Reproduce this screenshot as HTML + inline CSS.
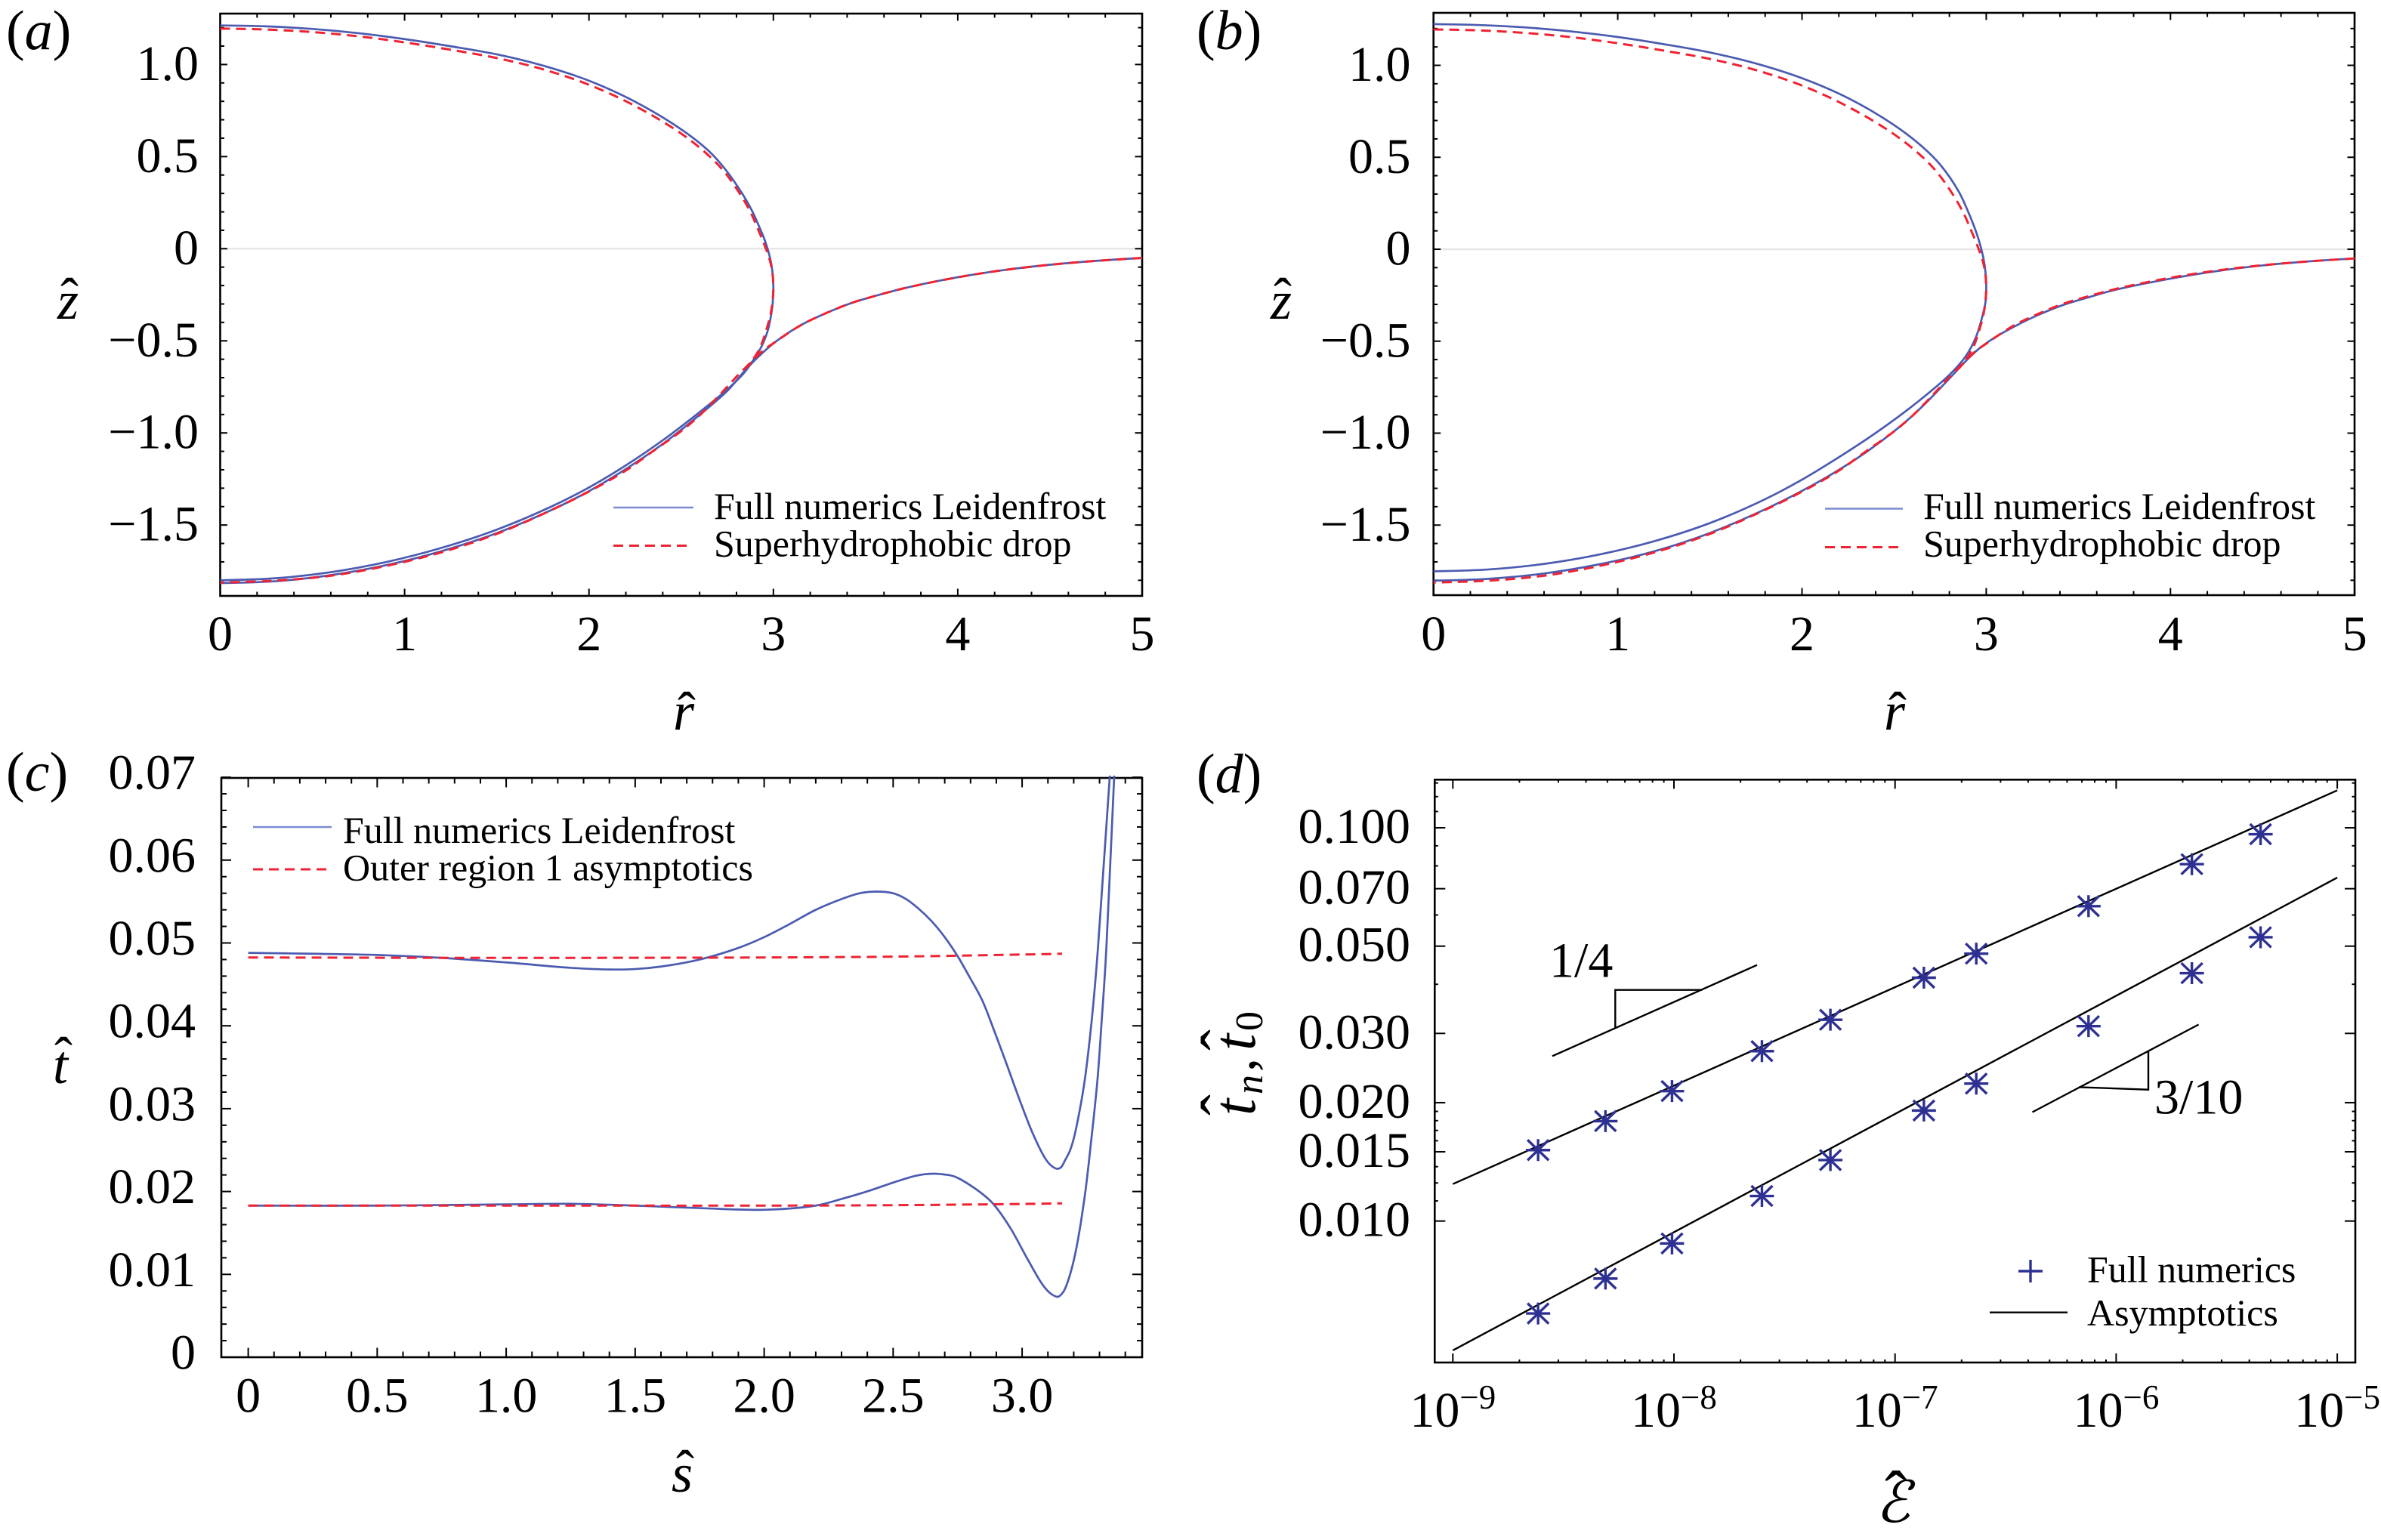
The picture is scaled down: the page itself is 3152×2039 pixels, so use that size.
<!DOCTYPE html>
<html lang="en">
<head>
<meta charset="utf-8">
<title>Leidenfrost drop profiles and film thickness</title>
<style>
html,body{margin:0;padding:0;background:#fff;}
body{width:3152px;height:2039px;overflow:hidden;}
svg{display:block;}
text{font-family:"Liberation Serif","DejaVu Serif",serif;fill:#000;}
.tick{font-size:66px;}
.sup{font-size:45px;}
.leg{font-size:50px;}
.tag{font-size:74px;}
.ax{font-size:72px;font-style:italic;}
.hat{font-size:72px;font-style:normal;}
.it{font-style:italic;}
.frame{fill:none;stroke:#000;stroke-width:2.6;}
.t{stroke:#000;stroke-width:2;}
.blue{fill:none;stroke:#4b5bb0;stroke-width:2.7;}
.red{fill:none;stroke:#ee2333;stroke-width:3;stroke-dasharray:13 8;}
.blk{fill:none;stroke:#000;stroke-width:2.4;}
.zero{stroke:#e6e6e6;stroke-width:2.4;}
.mk{fill:none;stroke:#2e3192;stroke-width:3.4;}
</style>
</head>
<body>
<svg id="figure" xmlns="http://www.w3.org/2000/svg" width="3152" height="2039" viewBox="0 0 3152 2039">
  <rect width="3152" height="2039" fill="#fff"/>

  <g id="panel-a">
    <text class="tag" x="8" y="65">(<tspan class="it">a</tspan>)</text>
    <text class="ax" x="905" y="966" text-anchor="middle">r</text>
    <text class="hat" x="909" y="966" text-anchor="middle">ˆ</text>
    <text class="ax" x="90" y="422" text-anchor="middle">z</text>
    <text class="hat" x="92" y="418" text-anchor="middle">ˆ</text>
    <line x1="812" x2="918" y1="672" y2="672" stroke="#7d8bd0" stroke-width="2.4"/>
    <line class="red" x1="812" x2="916" y1="722.5" y2="722.5" stroke-width="2.6"/>
    <text class="leg" x="945" y="687">Full numerics Leidenfrost</text>
    <text class="leg" x="945" y="736.5">Superhydrophobic drop</text>
  </g>

  <g id="panel-b">
    <text class="tag" x="1584" y="65">(<tspan class="it">b</tspan>)</text>
    <text class="ax" x="2508" y="966" text-anchor="middle">r</text>
    <text class="hat" x="2512" y="966" text-anchor="middle">ˆ</text>
    <text class="ax" x="1696" y="422" text-anchor="middle">z</text>
    <text class="hat" x="1698" y="418" text-anchor="middle">ˆ</text>
    <line x1="2416" x2="2519" y1="673.5" y2="673.5" stroke="#7d8bd0" stroke-width="2.4"/>
    <line class="red" x1="2416" x2="2519" y1="724.5" y2="724.5" stroke-width="2.6"/>
    <text class="leg" x="2546" y="687">Full numerics Leidenfrost</text>
    <text class="leg" x="2546" y="736.5">Superhydrophobic drop</text>
  </g>

  <g id="panel-c">
    <text class="tag" x="8" y="1047">(<tspan class="it">c</tspan>)</text>
    <text class="ax" x="903" y="1975" text-anchor="middle">s</text>
    <text class="hat" x="907" y="1970" text-anchor="middle">ˆ</text>
    <text class="ax" x="80" y="1434" text-anchor="middle">t</text>
    <text class="hat" x="84" y="1423" text-anchor="middle">ˆ</text>
    <line x1="335" x2="439" y1="1095" y2="1095" stroke="#7d8bd0" stroke-width="2.4"/>
    <line class="red" x1="335" x2="439" y1="1151" y2="1151" stroke-width="2.6"/>
    <text class="leg" x="454" y="1116">Full numerics Leidenfrost</text>
    <text class="leg" x="454" y="1165.5">Outer region 1 asymptotics</text>
  </g>

  <g id="panel-d">
    <text class="tag" x="1584" y="1049">(<tspan class="it">d</tspan>)</text>
    <text class="ax" x="2506" y="2015" text-anchor="middle" style="font-size:76px">ℰ</text>
    <text class="hat" x="2510" y="2010" text-anchor="middle" style="font-size:90px">ˆ</text>
    <g transform="translate(1661,1481) rotate(-90)">
      <text class="ax" x="4" y="0" style="font-size:80px">t</text>
      <text class="hat" x="4" y="-13" style="font-size:84px">ˆ</text>
      <text class="ax" x="32" y="10" style="font-size:52px">n</text>
      <text x="62" y="0" style="font-size:72px">,</text>
      <text class="ax" x="90" y="0" style="font-size:80px">t</text>
      <text class="hat" x="90" y="-13" style="font-size:84px">ˆ</text>
      <text x="116" y="10" style="font-size:52px">0</text>
    </g>
    <path class="mk" d="M2672 1683H2704M2688 1668V1698"/>
    <line class="blk" x1="2634" x2="2737" y1="1737.7" y2="1737.7"/>
    <text class="leg" x="2763" y="1697.5">Full numerics</text>
    <text class="leg" x="2763" y="1755">Asymptotics</text>
    <line class="blk" x1="2055" y1="1398.3" x2="2326" y2="1277.7"/>
    <path class="blk" d="M2138.3 1361V1310.7H2253.3"/>
    <text class="tick" x="2051" y="1293.3">1/4</text>
    <line class="blk" x1="2690.5" y1="1472.5" x2="2910.6" y2="1356.5"/>
    <path class="blk" d="M2752 1439.4L2844 1442.7V1391"/>
    <text class="tick" x="2852" y="1474.5">3/10</text>
  </g>
</svg>

<script>
// ---------- panel a: drop and bath profiles ----------
const aBlueDropR = [0,.25,.5,.75,1,1.25,1.5,1.75,2,2.25,2.5,2.65,2.74,2.84,2.887,2.923,2.952,2.982,2.995,3,2.996,2.986,2.97,2.935,2.881,2.84,2.75,2.6,2.4,2.2,2,1.8,1.5,1.2,.9,.6,.3,0];
const aBlueDropZ = [1.212,1.207,1.193,1.17,1.138,1.099,1.055,.994,.912,.798,.648,.53,.43,.285,.2,.12,.05,-.05,-.125,-.211,-.3,-.37,-.443,-.532,-.62,-.675,-.764,-.887,-1.04,-1.176,-1.296,-1.398,-1.525,-1.624,-1.701,-1.756,-1.789,-1.8];
const aBlueBathR = [5,4.75,4.5,4.25,4,3.72,3.56,3.42,3.285,3.149,3.012,2.915,2.847,2.75,2.6,2.4,2.2,2,1.8,1.5,1.2,.9,.6,.3,0];
const aBlueBathZ = [-.05,-.066,-.087,-.116,-.155,-.212,-.254,-.296,-.35,-.415,-.505,-.59,-.66,-.772,-.902,-1.06,-1.196,-1.316,-1.417,-1.544,-1.642,-1.718,-1.772,-1.805,-1.815];

// ---------- panel b: drop and bath profiles ----------
const bBlueDropR = [0,.25,.5,.75,1,1.25,1.5,1.75,2,2.25,2.5,2.65,2.75,2.85,2.895,2.93,2.958,2.985,2.996,3,2.997,2.985,2.944,2.89,2.8,2.6,2.4,2.2,2,1.8,1.5,1.2,.9,.6,.3,0];
const bBlueDropZ = [1.224,1.219,1.206,1.184,1.154,1.115,1.07,1.01,.93,.822,.675,.56,.46,.315,.22,.135,.055,-.05,-.125,-.205,-.28,-.341,-.478,-.58,-.683,-.852,-.999,-1.131,-1.253,-1.359,-1.489,-1.587,-1.66,-1.711,-1.741,-1.751];
const bBlueBathR = [5,4.75,4.5,4.25,4,3.695,3.56,3.42,3.285,3.149,3.04,2.958,2.89,2.8,2.7,2.6,2.5,2.35,2.2,2,1.8,1.5,1.2,.9,.6,.3,0];
const bBlueBathZ = [-.05,-.066,-.088,-.119,-.16,-.222,-.26,-.302,-.356,-.422,-.484,-.543,-.607,-.703,-.808,-.905,-.99,-1.102,-1.2,-1.314,-1.414,-1.543,-1.642,-1.713,-1.763,-1.792,-1.802];

// ---------- superhydrophobic drop, shared by panels a and b ----------
const redDropR = [0,.25,.5,.75,1,1.25,1.5,1.75,2,2.25,2.5,2.65,2.74,2.83,2.88,2.917,2.948,2.98,2.994,3,2.996,2.986,2.971,2.93,2.89,2.8,2.7,2.6,2.5,2.336,2.2,2,1.8,1.5,1.2,.9,.6,.3,0];
const redDropZ = [1.195,1.19,1.176,1.153,1.12,1.08,1.035,.974,.89,.775,.625,.505,.41,.28,.19,.105,.03,-.06,-.125,-.205,-.28,-.35,-.41,-.532,-.6,-.695,-.803,-.905,-.99,-1.107,-1.204,-1.318,-1.417,-1.548,-1.648,-1.722,-1.775,-1.802,-1.812];
const redBathR = [5,4.75,4.5,4.25,4,3.72,3.56,3.42,3.285,3.149,3.012,2.93,2.85];
const redBathZ = [-.05,-.066,-.087,-.116,-.155,-.212,-.254,-.296,-.35,-.415,-.505,-.565,-.65];

// ---------- panel c: film thickness ----------
const cUpperS = [0,.25,.5,.75,1,1.25,1.4,1.5,1.6,1.75,1.9,2,2.1,2.2,2.3,2.37,2.43,2.5,2.55,2.6,2.65,2.7,2.75,2.796,2.845,2.893,2.942,2.991,3.04,3.088,3.11,3.135,3.15,3.167,3.185,3.201,3.222,3.243,3.269,3.289,3.305,3.34];
const cUpperT = [.0488,.0487,.04855,.0482,.04765,.047,.0468,.04685,.04715,.048,.0494,.0507,.0523,.054,.0553,.056,.0562,.056,.0553,.0541,.0526,.0507,.0484,.0459,.0431,.0393,.0352,.031,.0271,.02407,.0232,.02275,.0229,.0238,.0249,.0265,.0296,.0335,.04042,.04737,.05433,.0702];
const cLowerS = [0,.5,1,1.25,1.5,1.75,2,2.2,2.3,2.405,2.503,2.581,2.62,2.659,2.7,2.737,2.815,2.883,2.952,3.02,3.079,3.11,3.139,3.16,3.181,3.208,3.243,3.269,3.292,3.308,3.323,3.334,3.357];
const cLowerT = [.0183,.0183,.01845,.01852,.0183,.018,.0178,.0183,.0191,.02007,.02111,.02185,.02208,.02215,.02205,.02182,.02042,.01868,.01572,.0119,.00877,.0077,.0073,.0079,.0095,.0128,.0195,.0265,.03346,.04042,.04737,.05433,.0702];
const cRedUpperS = [0,1,2,2.5,3,3.155];
const cRedUpperT = [.04825,.0482,.04825,.04835,.0486,.0487];
const cRedLowerS = [0,1,2,2.5,3,3.155];
const cRedLowerT = [.0183,.0183,.0183,.01835,.0185,.01857];

// ---------- panel d: numerics and asymptotics ----------
const dEps = [2.43e-9,4.9e-9,9.8e-9,2.5e-8,5.1e-8,1.35e-7,2.33e-7,7.5e-7,2.2e-6,4.5e-6];
const dUpperMarks = [.01515,.01795,.0214,.02704,.0325,.04157,.04785,.0632,.0808,.0963];
const dLowerMarks = [.00582,.00714,.00877,.01158,.01429,.0191,.02236,.0313,.04268,.05268];
const dLineEps = [1e-9,1e-5];
const dUpperLine = [.01242,.1245];
const dLowerLine = [.00469,.0747];

// ---------- tick values and labels ----------
const rTicks = [0,1,2,3,4,5];
const rTickLabels = ['0','1','2','3','4','5'];
const zTicks = [1,.5,0,-.5,-1,-1.5];
const zTickLabels = ['1.0','0.5','0','\u22120.5','\u22121.0','\u22121.5'];
const sTicks = [0,.5,1,1.5,2,2.5,3];
const sTickLabels = ['0','0.5','1.0','1.5','2.0','2.5','3.0'];
const tTicks = [0,.01,.02,.03,.04,.05,.06,.07];
const tTickLabels = ['0','0.01','0.02','0.03','0.04','0.05','0.06','0.07'];
const epsTicks = [1e-9,1e-8,1e-7,1e-6,1e-5];
const epsTickExps = ['\u22129','\u22128','\u22127','\u22126','\u22125'];
const dyTicks = [.1,.07,.05,.03,.02,.015,.01];
const dyTickLabels = ['0.100','0.070','0.050','0.030','0.020','0.015','0.010'];
const dyMinor = [.13,.12,.11,.09,.08,.06,.04,.019,.018,.017,.016,.01375,.0125,.01125];

// ---------- axis functions ----------
const sxA = r => 291.5 + 244.1 * r;
const syA = z => 329.3 - 243.9 * z;
const sxB = r => 1897.7 + 243.9 * r;
const syB = z => 330 - 243.5 * z;
const sxC = s => 328.6 + 341.5 * s;
const syC = t => 1797 - 10970 * t;
const sxD = e => 1923.3 + 292.7 * (Math.log10(e) + 9);
const syD = t => 1096 - 520.7 * Math.log10(t / 0.1);

const NS = 'http://www.w3.org/2000/svg';

function svgEl(parent, tag, attrs, text) {
  const el = document.createElementNS(NS, tag);
  for (const k in attrs) el.setAttribute(k, attrs[k]);
  if (text !== undefined) el.textContent = text;
  parent.appendChild(el);
  return el;
}

// centripetal Catmull-Rom through the data points
function smoothPath(xs, ys, sx, sy) {
  const p = xs.map((x, i) => [sx(x), sy(ys[i])]);
  const dist = (a, b) => Math.pow(Math.hypot(a[0] - b[0], a[1] - b[1]), 0.5);
  let d = 'M' + p[0][0].toFixed(2) + ' ' + p[0][1].toFixed(2);
  for (let i = 0; i < p.length - 1; i++) {
    const p1 = p[i], p2 = p[i + 1];
    const p0 = i > 0 ? p[i - 1] : p1;
    const p3 = i + 2 < p.length ? p[i + 2] : p2;
    const d1 = dist(p0, p1), d2 = dist(p1, p2), d3 = dist(p2, p3);
    const c1 = [0, 1].map(k => d1 === 0 ? p1[k] :
      (d1 * d1 * p2[k] - d2 * d2 * p0[k] + (2 * d1 * d1 + 3 * d1 * d2 + d2 * d2) * p1[k]) / (3 * d1 * (d1 + d2)));
    const c2 = [0, 1].map(k => d3 === 0 ? p2[k] :
      (d3 * d3 * p1[k] - d2 * d2 * p3[k] + (2 * d3 * d3 + 3 * d3 * d2 + d2 * d2) * p2[k]) / (3 * d3 * (d3 + d2)));
    d += 'C' + c1[0].toFixed(2) + ' ' + c1[1].toFixed(2) + ' ' + c2[0].toFixed(2) + ' ' + c2[1].toFixed(2) + ' ' + p2[0].toFixed(2) + ' ' + p2[1].toFixed(2);
  }
  return d;
}

function curve(parent, cls, xs, ys, sx, sy) {
  return svgEl(parent, 'path', { class: cls, d: smoothPath(xs, ys, sx, sy) });
}

function drawAxes(g, o) {
  const frame = svgEl(g, 'rect', { class: 'frame', x: o.L, y: o.T, width: o.R - o.L, height: o.B - o.T });
  
  
  const xAll = o.xMaj.map(v => [v, o.xMajLen]).concat(o.xMin.map(v => [v, o.xMinLen]));
  for (const [v, len] of xAll) {
    const x = o.sx(v);
    const bottom = svgEl(g, 'line', { class: 't', x1: x, x2: x, y1: o.B, y2: o.B - len });
    
    
    const top = svgEl(g, 'line', { class: 't', x1: x, x2: x, y1: o.T, y2: o.T + len });
    
    
  }
  const yAll = o.yMaj.map(v => [v, o.yMajLen]).concat(o.yMin.map(v => [v, o.yMinLen]));
  for (const [v, len] of yAll) {
    const y = o.sy(v);
    const left = svgEl(g, 'line', { class: 't', x1: o.L, x2: o.L + len, y1: y, y2: y });
    
    
    const right = svgEl(g, 'line', { class: 't', x1: o.R, x2: o.R - len, y1: y, y2: y });
    
    
  }
}

function drawXLabels(g, vals, labels, sx, y) {
  vals.forEach((v, i) => {
    const t = svgEl(g, 'text', { class: 'tick', x: sx(v), y: y, 'text-anchor': 'middle' }, labels[i]);
    
    
  });
}

function drawYLabels(g, vals, labels, sy, x, offset) {
  vals.forEach((v, i) => {
    const t = svgEl(g, 'text', { class: 'tick', x: x, y: sy(v) + offset, 'text-anchor': 'end' }, labels[i]);
    
    
  });
}

function steps(from, to, step, skipEvery) {
  const out = [];
  const n = Math.round((to - from) / step);
  for (let i = 0; i <= n; i++) {
    const v = from + i * step;
    const k = v / (step * skipEvery);
    if (Math.abs(k - Math.round(k)) > 1e-6) out.push(+v.toFixed(6));
  }
  return out;
}

function drawProfilePanel(id, sx, sy, L, R, T, B, labelX) {
  const g = document.getElementById(id);
  const zero = svgEl(g, 'line', { class: 'zero', x1: L, x2: R, y1: sy(0), y2: sy(0) });
  
  
  drawAxes(g, {
    L, R, T, B, sx, sy,
    xMaj: rTicks, xMin: steps(0, 5, .2, 5), xMajLen: 9.5, xMinLen: 5.5,
    yMaj: zTicks, yMin: steps(-1.8, 1.2, .1, 5), yMajLen: 9.5, yMinLen: 5.5
  });
  drawXLabels(g, rTicks, rTickLabels, sx, 861);
  drawYLabels(g, zTicks, zTickLabels, sy, labelX, 20.5);
}

drawProfilePanel('panel-a', sxA, syA, 291.5, 1512, 18, 789, 263);
drawProfilePanel('panel-b', sxB, syB, 1897.7, 3117, 17, 788, 1867.5);

const gA = document.getElementById('panel-a');
const aBlueDrop = curve(gA, 'blue', aBlueDropR, aBlueDropZ, sxA, syA);


const aBlueBath = curve(gA, 'blue', aBlueBathR, aBlueBathZ, sxA, syA);


const aRedDrop = curve(gA, 'red', redDropR, redDropZ, sxA, syA);


const aRedBath = curve(gA, 'red', redBathR, redBathZ, sxA, syA);



const gB = document.getElementById('panel-b');
const bBlueDrop = curve(gB, 'blue', bBlueDropR, bBlueDropZ, sxB, syB);


const bBlueBath = curve(gB, 'blue', bBlueBathR, bBlueBathZ, sxB, syB);


const bRedDrop = curve(gB, 'red', redDropR, redDropZ, sxB, syB);


const bRedBath = curve(gB, 'red', redBathR, redBathZ, sxB, syB);



// panel c
const gC = document.getElementById('panel-c');
drawAxes(gC, {
  L: 293, R: 1512, T: 1030, B: 1797, sx: sxC, sy: syC,
  xMaj: sTicks, xMin: steps(0, 3.4, .1, 5), xMajLen: 12.5, xMinLen: 7.5,
  yMaj: tTicks, yMin: steps(0, .07, .002, 5), yMajLen: 13, yMinLen: 7
});
drawXLabels(gC, sTicks, sTickLabels, sxC, 1869.5);
drawYLabels(gC, tTicks, tTickLabels, syC, 259, 15.5);
const cUpper = curve(gC, 'blue', cUpperS, cUpperT, sxC, syC);


const cLower = curve(gC, 'blue', cLowerS, cLowerT, sxC, syC);


const cRedUpper = curve(gC, 'red', cRedUpperS, cRedUpperT, sxC, syC);


const cRedLower = curve(gC, 'red', cRedLowerS, cRedLowerT, sxC, syC);



// panel d
const gD = document.getElementById('panel-d');
const epsMinor = [];
for (let e = -9; e < -5; e++) {
  for (let m = 2; m <= 9; m++) epsMinor.push(m * Math.pow(10, e));
}
drawAxes(gD, {
  L: 1899.3, R: 3118, T: 1032.3, B: 1804, sx: sxD, sy: syD,
  xMaj: epsTicks, xMin: epsMinor, xMajLen: 12, xMinLen: 4,
  yMaj: dyTicks, yMin: dyMinor, yMajLen: 14, yMinLen: 4.5
});
drawYLabels(gD, dyTicks, dyTickLabels, syD, 1867, 20);
epsTicks.forEach((v, i) => {
  const t = svgEl(gD, 'text', { class: 'tick', x: sxD(v), y: 1889, 'text-anchor': 'middle' });
  
  
  svgEl(t, 'tspan', {}, '10');
  svgEl(t, 'tspan', { class: 'sup', dy: '-24' }, epsTickExps[i]);
});
const dLineU = svgEl(gD, 'line', { class: 'blk', x1: sxD(dLineEps[0]), y1: syD(dUpperLine[0]), x2: sxD(dLineEps[1]), y2: syD(dUpperLine[1]) });


const dLineL = svgEl(gD, 'line', { class: 'blk', x1: sxD(dLineEps[0]), y1: syD(dLowerLine[0]), x2: sxD(dLineEps[1]), y2: syD(dLowerLine[1]) });



function markerPath(e, t) {
  const x = sxD(e), y = syD(t);
  return 'M' + (x - 16) + ' ' + y + 'H' + (x + 16) +
    'M' + x + ' ' + (y - 14.5) + 'V' + (y + 14.5) +
    'M' + (x - 14) + ' ' + (y - 13.5) + 'L' + (x + 14) + ' ' + (y + 13.5) +
    'M' + (x - 14) + ' ' + (y + 13.5) + 'L' + (x + 14) + ' ' + (y - 13.5);
}
dEps.forEach((e, i) => {
  const u = svgEl(gD, 'path', { class: 'mk', d: markerPath(e, dUpperMarks[i]) });
  
  
  const l = svgEl(gD, 'path', { class: 'mk', d: markerPath(e, dLowerMarks[i]) });
  
  
});
</script>
</body>
</html>
